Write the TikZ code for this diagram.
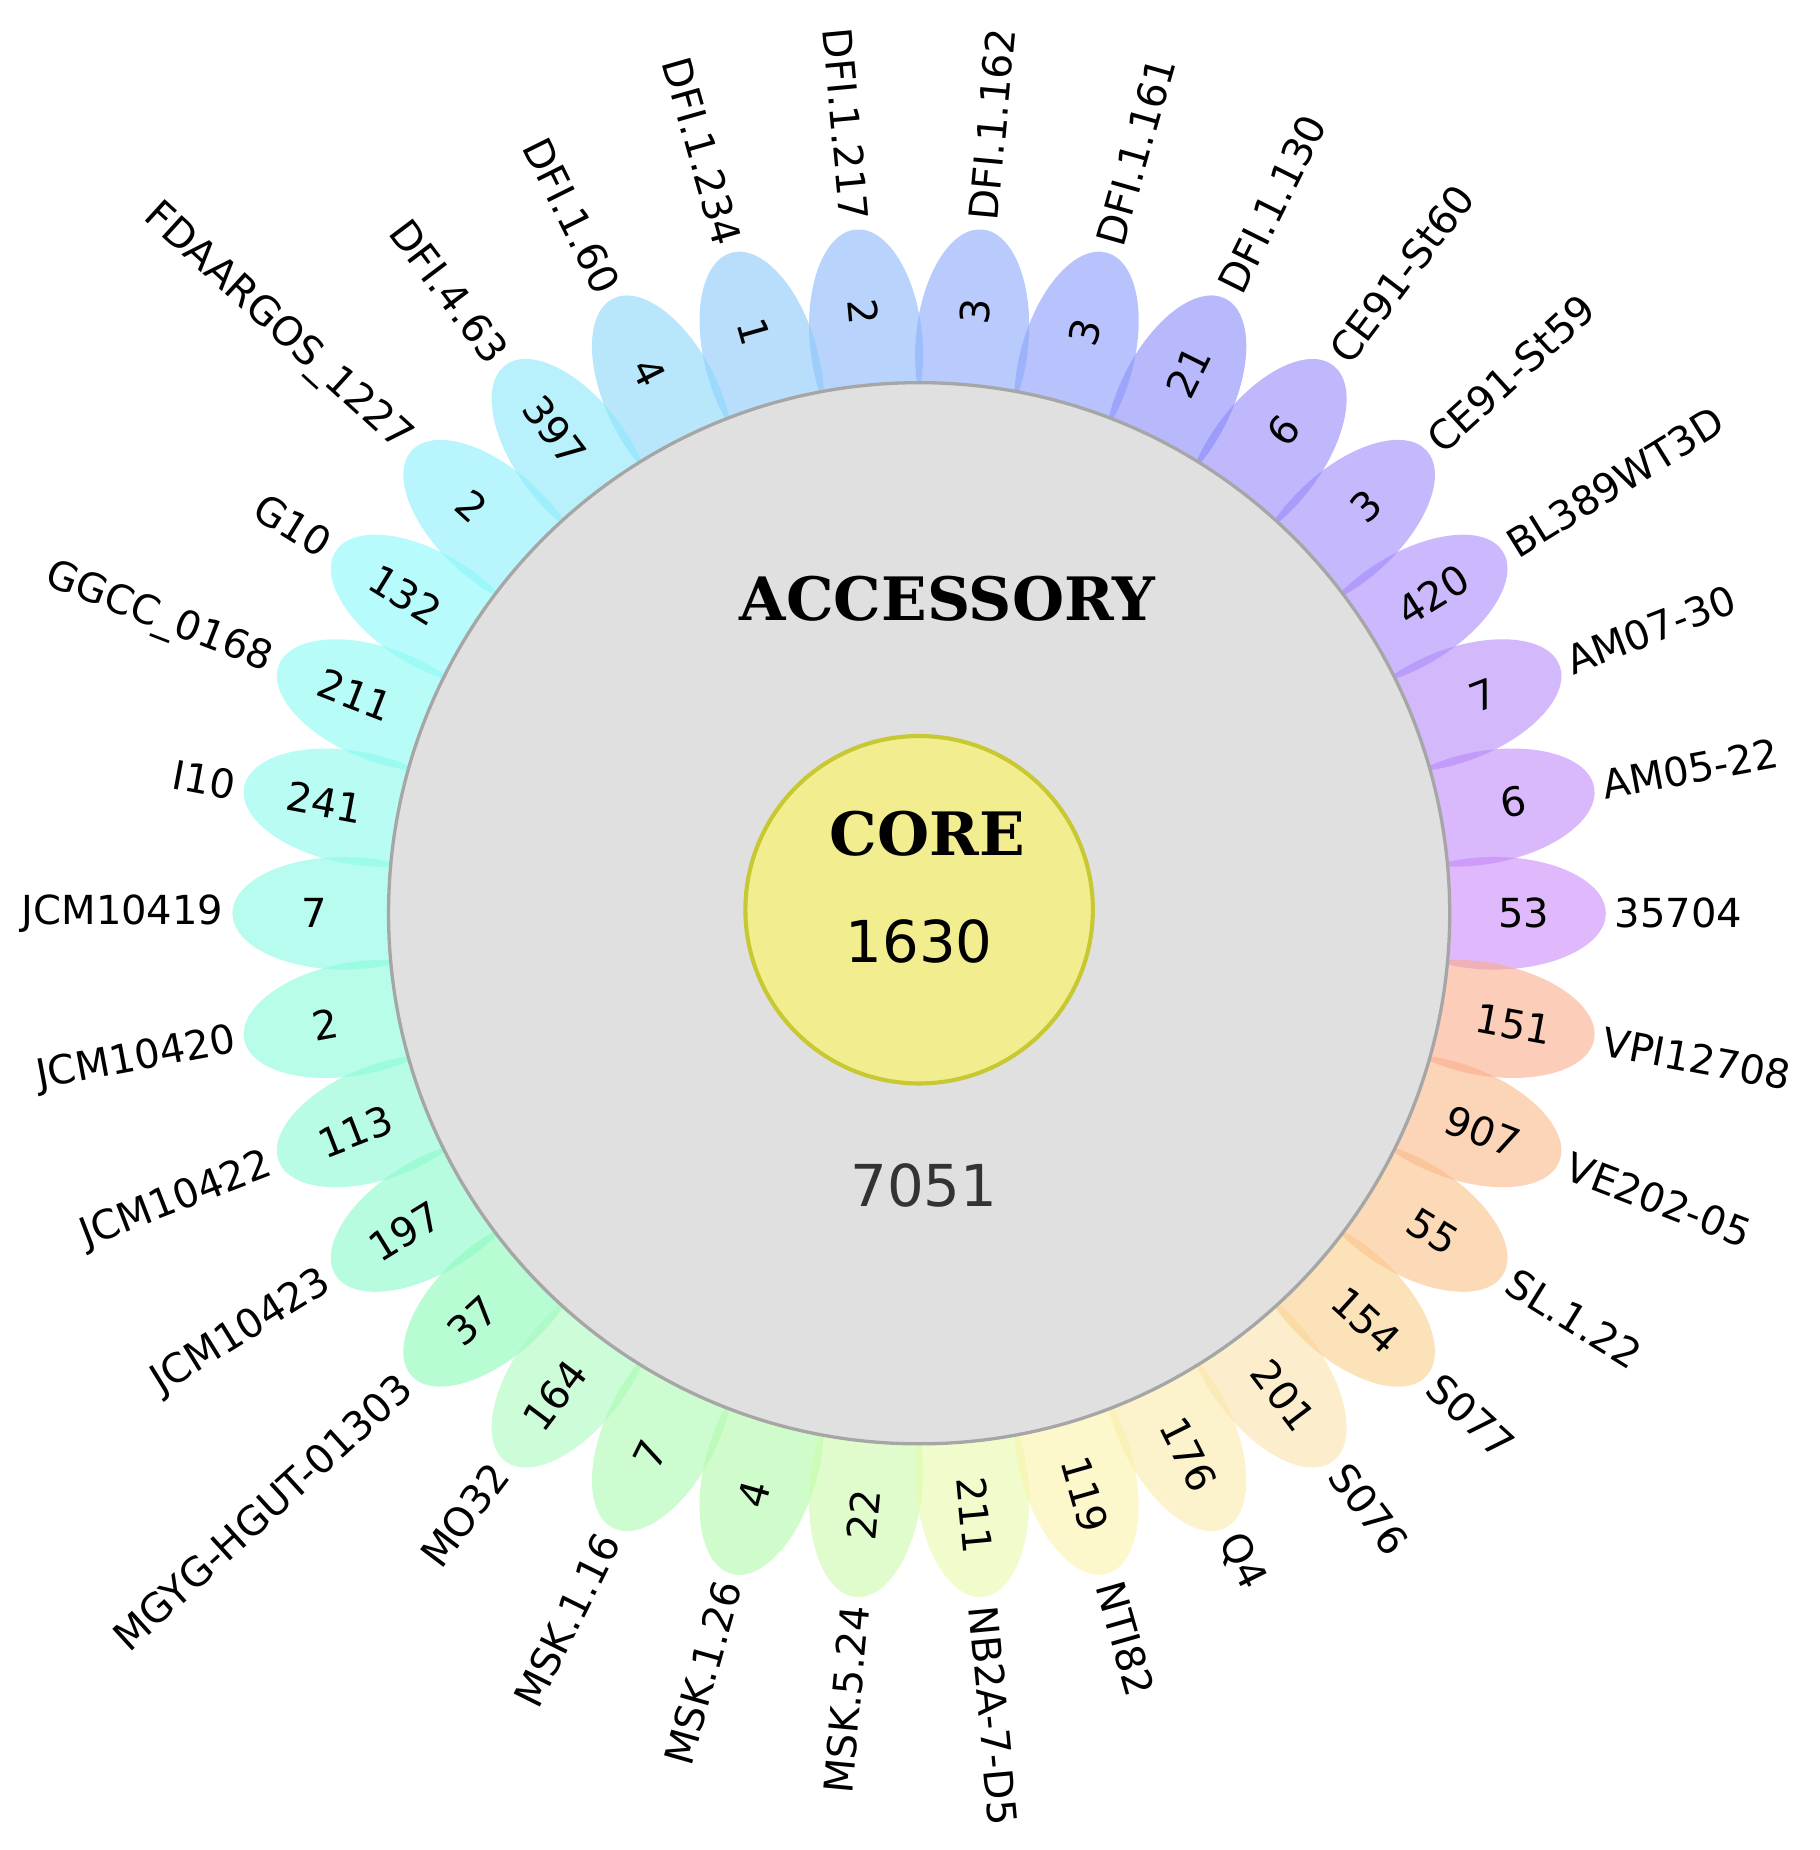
\documentclass[tikz,border=0pt]{standalone}
\usepackage{fontspec}
\setmainfont{DejaVu Sans}
\newfontfamily\slab{DejaVu Serif}
\begin{document}
\begin{tikzpicture}
\useasboundingbox (-7.83,-7.98) rectangle (7.67,7.78);
\tikzset{lab/.style={font=\fontsize{9.7}{12}\selectfont, inner sep=0pt},
         num/.style={font=\fontsize{9.7}{12}\selectfont, inner sep=0pt}}
\foreach [count=\i from 0] \lab/\num in {35704/53, AM05-22/6, AM07-30/7, BL389WT3D/420, CE91-St59/3, CE91-St60/6, DFI.1.130/21, DFI.1.161/3, DFI.1.162/3, DFI.1.217/2, DFI.1.234/1, DFI.1.60/4, DFI.4.63/397, FDAARGOS\_1227/2, G10/132, GGCC\_0168/211, I10/241, JCM10419/7, JCM10420/2, JCM10422/113, JCM10423/197, MGYG-HGUT-01303/37, MO32/164, MSK.1.16/7, MSK.1.26/4, MSK.5.24/22, NB2A-7-D5/211, NTI82/119, Q4/176, S076/201, S077/154, SL.1.22/55, VE202-05/907, VPI12708/151} {
  \pgfmathsetmacro\ang{\i*360/34}
  \pgfmathsetmacro\hue{(\i<=6 ? 275-5.83*\i : (\i<=12 ? 240-8.33*(\i-6) : (\i<=20 ? 190-4.375*(\i-12) : (\i<=24 ? 155-10*(\i-20) : (\i<=27 ? 115-20*(\i-24) : 55-6.17*(\i-27))))))/360}
  \pgfmathsetmacro\sat{(\i>=22 && \i<=29) ? 0.32 : 0.45}
  \definecolor{pc}{hsb}{\hue,\sat,0.98}
  \fill[pc, fill opacity=0.6] (\ang:4.9) ellipse[x radius=0.95, y radius=0.48, rotate=\ang];
}
\node[circle, draw=gray!70, line width=0.8pt, fill={rgb,255:red,224;green,224;blue,224}, minimum size=9.04cm] (acc) at (0,0) {};
\node[circle, draw={rgb,255:red,200;green,200;blue,50}, line width=1pt, fill={rgb,255:red,242;green,238;blue,144}, minimum size=2.96cm] (core) at (0,0.03) {};
\node[font=\slab\bfseries\fontsize{14.5}{18}\selectfont] (accl) at (0.24,2.68) {ACCESSORY};
\node[font=\slab\bfseries\fontsize{14.5}{18}\selectfont] (corel) at (0.07,0.68) {CORE};
\node[font=\fontsize{14}{18}\selectfont] (coren) at (0,-0.24) {1630};
\node[font=\fontsize{14}{18}\selectfont, text=black!80] (accn) at (0.04,-2.32) {7051};
\foreach [count=\i from 0] \lab/\num in {35704/53, AM05-22/6, AM07-30/7, BL389WT3D/420, CE91-St59/3, CE91-St60/6, DFI.1.130/21, DFI.1.161/3, DFI.1.162/3, DFI.1.217/2, DFI.1.234/1, DFI.1.60/4, DFI.4.63/397, FDAARGOS\_1227/2, G10/132, GGCC\_0168/211, I10/241, JCM10419/7, JCM10420/2, JCM10422/113, JCM10423/197, MGYG-HGUT-01303/37, MO32/164, MSK.1.16/7, MSK.1.26/4, MSK.5.24/22, NB2A-7-D5/211, NTI82/119, Q4/176, S076/201, S077/154, SL.1.22/55, VE202-05/907, VPI12708/151} {
  \pgfmathsetmacro\ang{\i*360/34}
  \pgfmathtruncatemacro\isleft{(\ang>90)&&(\ang<270)}
  \ifnum\isleft=1
    \node[num, rotate=\ang+180] (n\i) at (\ang:5.15) {\num};
    \node[lab, rotate=\ang+180, anchor=east] (l\i) at (\ang:5.92) {\lab};
  \else
    \node[num, rotate=\ang] (n\i) at (\ang:5.15) {\num};
    \node[lab, rotate=\ang, anchor=west] (l\i) at (\ang:5.92) {\lab};
  \fi
}
\end{tikzpicture}
\end{document}
